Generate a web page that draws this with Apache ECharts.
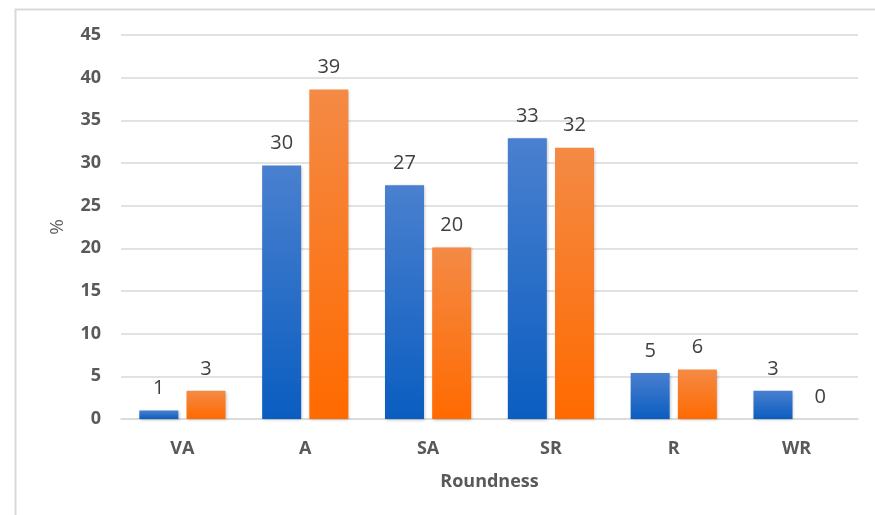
<!DOCTYPE html>
<html><head><meta charset="utf-8">
<script src="https://cdn.jsdelivr.net/npm/echarts@6/dist/echarts.min.js"></script>
<style>html,body{margin:0;padding:0;background:#fff}#c{width:875px;height:515px}</style>
</head><body><div id="c"></div>
<script>
const categories = ['VA', 'A', 'SA', 'SR', 'R', 'WR'];
const seriesA = [1.0, 29.7, 27.4, 32.9, 5.4, 3.3];
const seriesB = [3.3, 38.6, 20.1, 31.8, 5.8, 0];
const yTicks = { min: 0, max: 45, interval: 5 };

const chart = echarts.init(document.getElementById('c'));
const grad = (top, bottom) => new echarts.graphic.LinearGradient(0, 0, 0, 1, [
  { offset: 0, color: top }, { offset: 1, color: bottom }]);
const label = {
  show: true, position: 'top', distance: 12, color: '#404040',
  fontFamily: 'Open Sans', fontSize: 20,
  formatter: p => String(Math.round(p.value))
};
chart.setOption({
  animation: false,
  graphic: [{
    type: 'polyline', shape: { points: [[15.5, 515], [15.5, 9.5], [875, 9.5]] },
    style: { stroke: '#d9d9d9', lineWidth: 2, fill: null }
  }],
  grid: { left: 121, right: 17, top: 35, bottom: 96 },
  xAxis: {
    type: 'category', data: categories,
    axisLine: { lineStyle: { color: '#d9d9d9', width: 1.5 } },
    axisTick: { show: false },
    axisLabel: { color: '#595959', fontFamily: 'Open Sans', fontWeight: 'bold', fontSize: 18, margin: 21 },
    name: 'Roundness', nameLocation: 'middle', nameGap: 54,
    nameTextStyle: { color: '#595959', fontFamily: 'Open Sans', fontWeight: 'bold', fontSize: 18 }
  },
  yAxis: {
    type: 'value', min: yTicks.min, max: yTicks.max, interval: yTicks.interval,
    axisLine: { show: false }, axisTick: { show: false },
    splitLine: { lineStyle: { color: '#d9d9d9', width: 1.5 } },
    axisLabel: { color: '#595959', fontFamily: 'Open Sans', fontWeight: 'bold', fontSize: 18, margin: 20 },
    name: '%', nameLocation: 'middle', nameGap: 54, nameRotate: 90,
    nameTextStyle: { color: '#595959', fontFamily: 'Open Sans', fontSize: 19 }
  },
  series: [
    { type: 'bar', data: seriesA, barWidth: 39, barGap: '21%',
      itemStyle: { color: grad('#4a80cf', '#0a5dc0'), shadowColor: 'rgba(0,0,0,0.25)', shadowBlur: 3, shadowOffsetX: 1, shadowOffsetY: 1 },
      label },
    { type: 'bar', data: seriesB, barWidth: 39,
      itemStyle: { color: grad('#f48a45', '#ff6a00'), shadowColor: 'rgba(0,0,0,0.25)', shadowBlur: 3, shadowOffsetX: 1, shadowOffsetY: 1 },
      label }
  ]
});
</script></body></html>
